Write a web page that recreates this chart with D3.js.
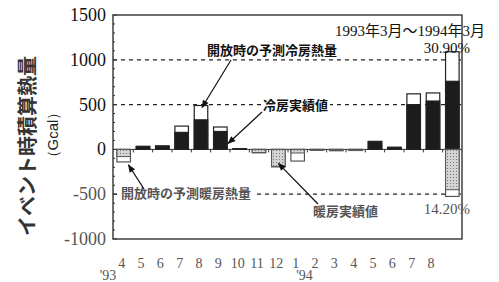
<!DOCTYPE html>
<html>
<head>
<meta charset="utf-8">
<script src="https://cdn.jsdelivr.net/npm/d3@7"></script>
<style>
  body { margin: 0; background: #fff; }
  svg text { font-family: "Liberation Serif", "Noto Sans CJK JP", serif; }
  .jp { font-family: "Noto Sans CJK JP", sans-serif; font-weight: 700; }
</style>
</head>
<body>
<svg id="chart" width="499" height="282"></svg>
<script>
// months Apr '93 .. Aug '94, plus the yearly total bar
const months = ["4","5","6","7","8","9","10","11","12","1","2","3","4","5","6","7","8",""];
const coolActual    = [0, 30, 35, 190, 330, 200, 5, 0, 0, 0, 0, 0, 0, 85, 20, 500, 540, 760];
const coolPredicted = [0, 35, 40, 260, 490, 250, 8, 0, 0, 0, 0, 0, 0, 90, 25, 620, 630, 1090];
const heatActual    = [-80, 0, 0, 0, 0, 0, 0, -35, -190, -40, -8, -12, -10, 0, 0, 0, 0, -450];
const heatPredicted = [-140, 0, 0, 0, 0, 0, 0, -38, -195, -130, -10, -15, -12, 0, 0, 0, 0, -525];
const yTicks = [-1000, -500, 0, 500, 1000, 1500];
const gridLines = [1000, 500, -500];

const svg = d3.select("#chart");
const pL = 113, pR = 462, pT = 15, pB = 239;

const x = d3.scaleBand()
  .domain(d3.range(months.length))
  .range([114, 462])
  .paddingInner(0.3)
  .paddingOuter(0.15);

const y = d3.scaleLinear().domain([-1000, 1500]).range([pB, pT]);

const defs = svg.append("defs");
defs.append("marker")
  .attr("id", "arr")
  .attr("viewBox", "0 0 10 10")
  .attr("refX", 9).attr("refY", 5)
  .attr("markerWidth", 11).attr("markerHeight", 8)
  .attr("markerUnits", "userSpaceOnUse")
  .attr("orient", "auto")
  .append("path").attr("d", "M0,1 L10,5 L0,9 Z").attr("fill", "#111");

const pat = defs.append("pattern")
  .attr("id", "dots").attr("width", 3).attr("height", 3)
  .attr("patternUnits", "userSpaceOnUse");
pat.append("rect").attr("width", 3).attr("height", 3).attr("fill", "#d4d4d4");
pat.append("rect").attr("width", 1).attr("height", 1).attr("fill", "#777");

// dashed guide lines
svg.selectAll(".grid")
  .data(gridLines)
  .enter().append("line")
  .attr("x1", pL).attr("x2", pR)
  .attr("y1", d => y(d)).attr("y2", d => y(d))
  .attr("stroke", "#222")
  .attr("stroke-width", 1.3)
  .attr("stroke-dasharray", "4,4");

// frame
svg.append("rect")
  .attr("x", pL).attr("y", pT)
  .attr("width", pR - pL).attr("height", pB - pT)
  .attr("fill", "none").attr("stroke", "#333").attr("stroke-width", 1.4);

// minor and major ticks on the left axis (inside)
svg.selectAll(".ytick")
  .data(d3.range(-1000, 1501, 100))
  .enter().append("line")
  .attr("x1", pL).attr("x2", d => pL + (d % 500 === 0 ? 4 : 2))
  .attr("y1", d => y(d)).attr("y2", d => y(d))
  .attr("stroke", "#333");

svg.selectAll(".ylab")
  .data(yTicks)
  .enter().append("text")
  .attr("x", 106).attr("y", d => y(d) + 6)
  .attr("text-anchor", "end")
  .attr("font-size", 18)
  .attr("fill", d => d < 0 ? "#555" : "#111")
  .text(d => d);

// zero line and band ticks
svg.append("line")
  .attr("x1", pL).attr("x2", pR)
  .attr("y1", y(0)).attr("y2", y(0))
  .attr("stroke", "#333");
svg.selectAll(".xtick")
  .data(d3.range(1, months.length))
  .enter().append("line")
  .attr("x1", d => x(d) - x.step() * x.paddingInner() / 2)
  .attr("x2", d => x(d) - x.step() * x.paddingInner() / 2)
  .attr("y1", y(0)).attr("y2", y(0) + 3)
  .attr("stroke", "#333");

// bars: white = predicted when open, black = cooling actual, dotted = heating actual
const bars = svg.append("g");
months.forEach((m, i) => {
  if (coolPredicted[i] > 0) {
    bars.append("rect")
      .attr("x", x(i)).attr("width", x.bandwidth())
      .attr("y", y(coolPredicted[i])).attr("height", y(0) - y(coolPredicted[i]))
      .attr("fill", "#fff").attr("stroke", "#222").attr("stroke-width", 1.2);
  }
  if (coolActual[i] > 0) {
    bars.append("rect")
      .attr("x", x(i)).attr("width", x.bandwidth())
      .attr("y", y(coolActual[i])).attr("height", y(0) - y(coolActual[i]))
      .attr("fill", "#1c1c1c").attr("stroke", "#222").attr("stroke-width", 1.2);
  }
  if (heatPredicted[i] < 0) {
    bars.append("rect")
      .attr("x", x(i)).attr("width", x.bandwidth())
      .attr("y", y(0)).attr("height", y(heatPredicted[i]) - y(0))
      .attr("fill", "#fff").attr("stroke", "#555").attr("stroke-width", 1.2);
  }
  if (heatActual[i] < 0) {
    bars.append("rect")
      .attr("x", x(i)).attr("width", x.bandwidth())
      .attr("y", y(0)).attr("height", y(heatActual[i]) - y(0))
      .attr("fill", "url(#dots)").attr("stroke", "#555").attr("stroke-width", 1);
  }
});

// month labels
svg.selectAll(".mlab")
  .data(months)
  .enter().append("text")
  .attr("x", (d, i) => x(i) + x.bandwidth() / 2 - 2)
  .attr("y", 268)
  .attr("text-anchor", "middle")
  .attr("font-size", 14)
  .attr("fill", "#555")
  .text(d => d);
svg.append("text").attr("x", 108).attr("y", 280).attr("text-anchor", "middle")
  .attr("font-size", 14).attr("fill", "#555").text("'93");
svg.append("text").attr("x", x(9) + x.bandwidth()).attr("y", 280).attr("text-anchor", "middle")
  .attr("font-size", 14).attr("fill", "#555").text("'94");

// axis title
svg.append("text").attr("class", "jp")
  .attr("transform", "translate(35,146) rotate(-90)")
  .attr("text-anchor", "middle")
  .attr("font-size", 20).attr("fill", "#333")
  .text("イベント時積算熱量");
svg.append("text")
  .attr("transform", "translate(58,135) rotate(-90)")
  .attr("text-anchor", "middle")
  .style("font-family", "'Liberation Sans', sans-serif")
  .attr("font-size", 15).attr("fill", "#222")
  .text("（Gcal）");

// annotations
function label(txt, lx, ly, opts) {
  const t = svg.append("text").attr("class", "jp")
    .attr("x", lx).attr("y", ly)
    .attr("font-size", 13)
    .attr("fill", opts.fill || "#111")
    .text(txt);
  if (opts.bg) {
    const b = t.node().getBBox();
    svg.insert("rect", () => t.node())
      .attr("x", b.x - 2).attr("y", b.y).attr("width", b.width + 4).attr("height", b.height)
      .attr("fill", "#fff");
  }
}
function arrow(x1, y1, x2, y2) {
  svg.append("line")
    .attr("x1", x1).attr("y1", y1).attr("x2", x2).attr("y2", y2)
    .attr("stroke", "#111").attr("stroke-width", 1.2)
    .attr("marker-end", "url(#arr)");
}

label("開放時の予測冷房熱量", 207, 55, {});
arrow(231, 60, x(4) + x.bandwidth() / 2 + 1, y(coolPredicted[4]) + 2);

label("冷房実績値", 263, 110, { bg: true });
arrow(262, 112, x(5) + x.bandwidth() + 1, y(coolActual[5]) + 12);

label("開放時の予測暖房熱量", 121, 198, { bg: true, fill: "#555" });
arrow(144, 189, x(0) + x.bandwidth() - 2, y(heatPredicted[0]) + 3);

label("暖房実績値", 313, 216, { fill: "#555" });
arrow(318, 204, x(8) + x.bandwidth() / 2, y(heatActual[8]) - 3);

svg.append("text").attr("x", 485).attr("y", 36).attr("text-anchor", "end")
  .attr("font-size", 15).attr("fill", "#111").text("1993年3月～1994年3月");
svg.append("text").attr("x", 470).attr("y", 53).attr("text-anchor", "end")
  .attr("font-size", 15).attr("fill", "#111").text("30.90%");
svg.append("text").attr("x", 470).attr("y", 214).attr("text-anchor", "end")
  .attr("font-size", 15).attr("fill", "#555").text("14.20%");
</script>
</body>
</html>
